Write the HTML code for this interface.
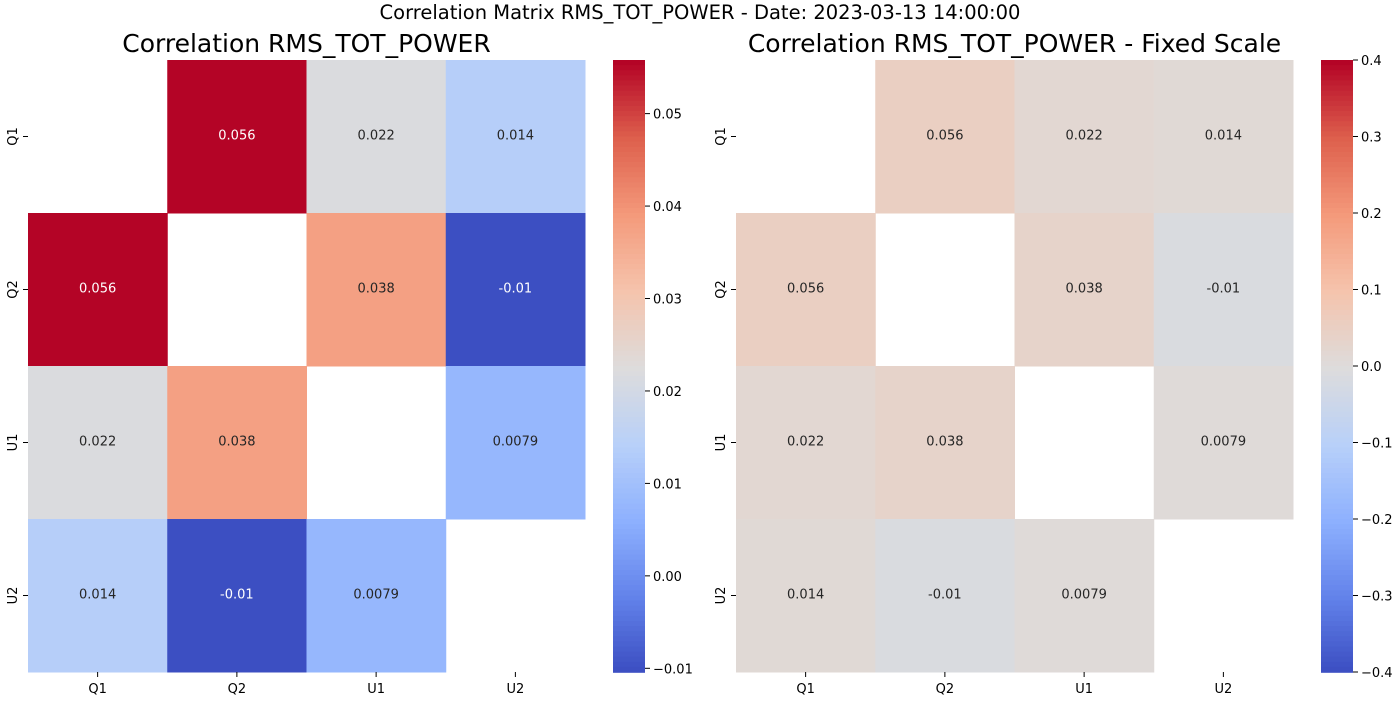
<!DOCTYPE html>
<html><head><meta charset="utf-8"><style>
body{margin:0;background:#fff;font-family:"Liberation Sans","DejaVu Sans",sans-serif}
svg text{font-family:"DejaVu Sans","Liberation Sans",sans-serif}
</style></head><body>
<svg id="c" width="1400" height="700">
<text x="700" y="19" text-anchor="middle" font-size="19.5">Correlation Matrix RMS_TOT_POWER - Date: 2023-03-13 14:00:00</text>
</svg>
<script>
const labels=["Q1","Q2","U1","U2"];
const row0=[null,0.056,0.022,0.014];
const row1=[0.056,null,0.038,-0.01];
const row2=[0.022,0.038,null,0.0079];
const row3=[0.014,-0.01,0.0079,null];
const leftTicks=[0.05,0.04,0.03,0.02,0.01,0.00,-0.01];
const rightTicks=[0.4,0.3,0.2,0.1,0.0,-0.1,-0.2,-0.3,-0.4];
const matrix=[row0,row1,row2,row3];
const NS="http://www.w3.org/2000/svg";
const svg=document.getElementById('c');
const cw=[[0,[58,76,192]],[0.125,[98,130,234]],[0.25,[141,176,254]],[0.375,[184,208,249]],[0.5,[221,220,220]],[0.625,[245,196,173]],[0.75,[244,154,123]],[0.875,[222,96,77]],[1,[180,4,38]]];
function cmap(t){t=Math.max(0,Math.min(1,t));for(let i=0;i<cw.length-1;i++){const[a,ca]=cw[i],[b,cb]=cw[i+1];if(t<=b){const f=(t-a)/(b-a);return ca.map((v,k)=>Math.round(v+(cb[k]-v)*f));}}return cw[8][1];}
function el(tag,attrs,parent){const e=document.createElementNS(NS,tag);for(const k in attrs)e.setAttribute(k,attrs[k]);(parent||svg).appendChild(e);return e;}
function panel(x0,title,vmin,vmax,ticks,cbx,tickFmt){
  const y0=60,W=557,H=612,n=4,cwid=W/n,ch=H/n;
  const t=el('text',{x:x0+W/2,y:52,'text-anchor':'middle','font-size':25});t.textContent=title;
  
  
  for(let i=0;i<n;i++)for(let j=0;j<n;j++){
    const v=matrix[i][j];if(v===null)continue;
    const c=cmap((v-vmin)/(vmax-vmin));
    const r=el('rect',{x:x0+j*cwid,y:y0+i*ch,width:cwid+0.5,height:ch+0.5,fill:`rgb(${c})`});
    
    
    const lum=(0.2126*c[0]+0.7152*c[1]+0.0722*c[2])/255;
    const tx=el('text',{x:x0+(j+0.5)*cwid,y:y0+(i+0.5)*ch+3,'text-anchor':'middle','font-size':13,fill:lum<0.408?'#fff':'#262626'});
    tx.textContent=String(v);
    
    
  }
  for(let k=0;k<n;k++){
    const xc=x0+(k+0.5)*cwid;
    el('line',{x1:xc,x2:xc,y1:y0+H,y2:y0+H+5,stroke:'#000'});
    const xl=el('text',{x:xc,y:y0+H+21,'text-anchor':'middle','font-size':13});xl.textContent=labels[k];
    
    
    const yc=y0+(k+0.5)*ch;
    el('line',{x1:x0-5,x2:x0,y1:yc,y2:yc,stroke:'#000'});
    const yl=el('text',{x:0,y:0,'text-anchor':'middle','font-size':13,transform:`translate(${x0-11},${yc}) rotate(-90)`});yl.textContent=labels[k];
    
    
  }
  const N=120;
  for(let s=0;s<N;s++){
    const c=cmap(1-s/N);
    el('rect',{x:cbx,y:y0+s*H/N,width:32,height:H/N+0.8,fill:`rgb(${c})`});
  }
  const cb=el('rect',{x:cbx,y:y0,width:32,height:H,fill:'none',stroke:'none'});
  
  
  ticks.forEach(tv=>{
    const y=y0+(vmax-tv)/(vmax-vmin)*H;
    el('line',{x1:cbx+32,x2:cbx+37,y1:y,y2:y,stroke:'#000'});
    const tl=el('text',{x:cbx+40,y:y+5,'font-size':13});tl.textContent=tickFmt(tv);
    
    
  });
}
const mn=Math.min(...matrix.flat().filter(v=>v!==null)),mx=Math.max(...matrix.flat().filter(v=>v!==null));
panel(28,"Correlation RMS_TOT_POWER",mn-0.0004,mx-0.0002,leftTicks,613,v=>(v<0?'\u2212':'')+Math.abs(v).toFixed(2));
panel(736,"Correlation RMS_TOT_POWER - Fixed Scale",-0.4,0.4,rightTicks,1321,v=>(v<0?'\u2212':'')+Math.abs(v).toFixed(1));
</script>
</body></html>
